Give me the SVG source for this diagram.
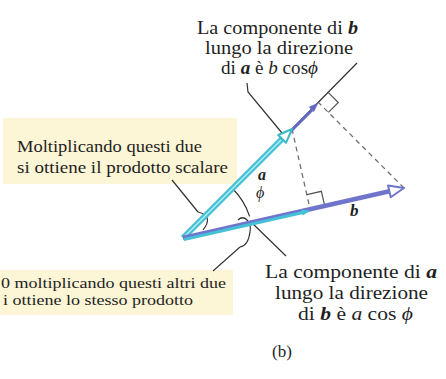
<svg xmlns="http://www.w3.org/2000/svg" width="446" height="379" viewBox="0 0 446 379">
<defs>
<style>
.t{font-family:"Liberation Serif","Times New Roman",serif;fill:#1f1f1f}
.lbl{font-size:18px}
.lbl2{font-size:19px}
.box{font-size:16.5px}
.box2{font-size:15px}
.bi{font-weight:bold;font-style:italic}
.it{font-style:italic}
.lead{fill:none;stroke:#333;stroke-width:1.2}
.dash{fill:none;stroke:#707070;stroke-width:1.3;stroke-dasharray:5 4}
.sq{fill:none;stroke:#555;stroke-width:1.2}
.note{fill:#fcf5d6}
</style>
</defs>
<rect width="446" height="379" fill="#ffffff"/>

<g id="note-top">
<rect class="note" x="3" y="118" width="234" height="66"/>
<text class="t box" x="17" y="152" textLength="185" lengthAdjust="spacingAndGlyphs">Moltiplicando questi due</text>
<text class="t box" x="17" y="173" textLength="211" lengthAdjust="spacingAndGlyphs">si ottiene il prodotto scalare</text>
</g>

<g id="note-bottom">
<rect class="note" x="0" y="270" width="233" height="45"/>
<text class="t box2" x="1" y="288" textLength="225" lengthAdjust="spacingAndGlyphs">0 moltiplicando questi altri due</text>
<text class="t box2" x="3" y="305" textLength="190" lengthAdjust="spacingAndGlyphs">i ottiene lo stesso prodotto</text>
</g>

<g id="label-bcos">
<text class="t lbl" x="197" y="34" textLength="161" lengthAdjust="spacingAndGlyphs">La componente di <tspan class="bi">b</tspan></text>
<text class="t lbl" x="205" y="54" textLength="148" lengthAdjust="spacingAndGlyphs">lungo la direzione</text>
<text class="t lbl" x="221" y="74" textLength="97" lengthAdjust="spacingAndGlyphs">di <tspan class="bi">a</tspan> è <tspan class="it">b</tspan> cos<tspan class="it">ϕ</tspan></text>
</g>

<g id="label-acos">
<text class="t lbl2" x="265" y="278" textLength="172" lengthAdjust="spacingAndGlyphs">La componente di <tspan class="bi">a</tspan></text>
<text class="t lbl2" x="275" y="299.2" textLength="153" lengthAdjust="spacingAndGlyphs">lungo la direzione</text>
<text class="t lbl2" x="298" y="320.4" textLength="115" lengthAdjust="spacingAndGlyphs">di <tspan class="bi">b</tspan> è <tspan class="it">a</tspan> cos <tspan class="it">ϕ</tspan></text>
</g>

<g id="connectors">
<path class="lead" d="M292,129 L357,63" stroke-width="1"/>
<path class="dash" d="M292,129 L310.1,209.2"/>
<path class="dash" d="M404,188 L318.5,102.5"/>
<path class="sq" d="M324.7,205.9 L321.4,191.3 L306.8,194.6"/>
<path class="sq" d="M328.4,92.6 L338.3,102.5 L328.4,112.4"/>
<path class="lead" d="M232.5,188.5 A70,70 0 0 1 249.6,216.4" stroke-width="1"/>
<path class="lead" d="M172,180 L198,212"/>
<path class="lead" d="M198,212 Q214,216 203,230"/>
<path class="lead" d="M238,220 C244,214 252,222 250,232 C249,240 246,246 240,247"/>
<path class="lead" d="M240,247 L213,271"/>
<path class="lead" d="M250,221 L286,256"/>
<path class="lead" d="M247,83 L248,92 L282,133"/>
</g>

<g id="vector-bcos">
<path d="M185,237 L312,110" stroke="#6067c4" stroke-width="3" fill="none"/>
<polygon points="318.5,102.5 313.9,112.1 308.9,107.1" fill="#6067c4"/>
</g>

<g id="vector-a">
<path d="M183,238 L282.5,138.5" stroke="#44c1d6" stroke-width="6" fill="none"/>
<path d="M184,237 L281,140" stroke="#bdeff5" stroke-width="1.2" fill="none"/>
<polygon points="292,129 286,142.8 278.2,135" fill="#ffffff" stroke="#3bb8c8" stroke-width="2" stroke-linejoin="round"/>
</g>

<g id="vector-b">
<path d="M183,238 L389.4,191.3" stroke="#6f74cc" stroke-width="4.5" fill="none"/>
<polygon points="404,188 390.7,197.2 388.1,185.5" fill="#ffffff" stroke="#6f74cc" stroke-width="2" stroke-linejoin="round"/>
</g>

<g id="vector-acos">
<path d="M184,239.5 L304,212.3" stroke="#44c1d6" stroke-width="3" fill="none"/>
<polygon points="310.6,210.8 302.6,215.6 301.2,209.4" fill="#44c1d6"/>
</g>

<g id="symbols">
<text class="t bi" x="258" y="180" font-size="16">a</text>
<text class="t it" x="256" y="198" font-size="16">ϕ</text>
<text class="t bi" x="350" y="216" font-size="17">b</text>
<text class="t" x="272" y="357" font-size="17">(b)</text>
</g>
</svg>
